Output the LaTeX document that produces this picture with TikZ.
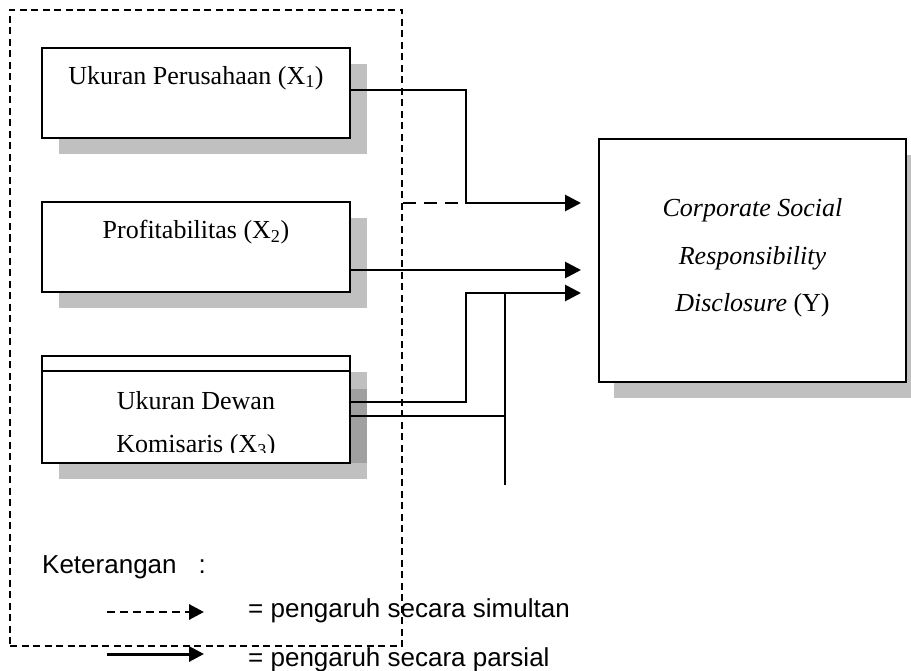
\documentclass[tikz,border=0pt]{standalone}
\usepackage{fontspec}
\setmainfont{Liberation Serif}
\newfontfamily\legendfont{Liberation Sans}
\usetikzlibrary{arrows.meta,shadows,calc}
\definecolor{shadowgray}{HTML}{C0C0C0}
\definecolor{stripgray}{HTML}{A0A0A0}
\begin{document}
\begin{tikzpicture}[x=1pt,y=-1pt,
  varbox/.style={draw=black, line width=2pt, fill=white, inner sep=0pt,
    drop shadow={shadow xshift=17pt, shadow yshift=-16pt, fill=shadowgray, opacity=1}},
  ybox/.style={draw=black, line width=2pt, fill=white, inner sep=0pt,
    drop shadow={shadow xshift=15pt, shadow yshift=-16pt, fill=shadowgray, opacity=1}},
  txt/.style={inner sep=0pt, font=\fontsize{26}{31}\selectfont},
  legtxt/.style={inner sep=0pt, anchor=west, font=\legendfont\fontsize{26}{31}\selectfont},
  conn/.style={line width=2.8pt, -{Triangle[length=16pt,width=16pt]}},
  dconn/.style={line width=2.8pt, dash pattern=on 13pt off 8pt},
  thinconn/.style={line width=1.8pt},
  grpbox/.style={draw=black, line width=1.5pt, dash pattern=on 7pt off 4.5pt, inner sep=0pt},
  legdash/.style={line width=2.4pt, dash pattern=on 8pt off 5pt},
  legsolid/.style={line width=3pt},
  legtip/.style={-{Triangle[length=15pt,width=15pt]}}
]
\useasboundingbox (0,0) rectangle (911,671);

% independent variable boxes
\node[varbox, minimum width=308pt, minimum height=90pt] (b1) at (196,93) {};
\node[txt] (t1) at (196,78) {Ukuran Perusahaan (X\textsubscript{1})};

\node[varbox, minimum width=308pt, minimum height=90pt] (b2) at (196,247) {};
\node[txt] (t2) at (196,232) {Profitabilitas (X\textsubscript{2})};

\node[varbox, minimum width=308pt, minimum height=107pt] (b3) at (196,409.5) {};
\fill[stripgray] (351,389) rectangle (367,463);
\draw[line width=2pt] (b3.north west) ++(0,16) coordinate (b3l) -- (b3l -| b3.east);
\begin{scope}
  \clip (43,373) rectangle (349,452.5);
  \node[txt, align=center, font=\fontsize{26}{43}\selectfont] (t3) at (196,425)
    {Ukuran Dewan\\Komisaris (X\textsubscript{3})};
\end{scope}

% dependent variable box
\node[ybox, minimum width=307pt, minimum height=243pt] (Y) at (752.5,260.5) {};
\node[txt, align=center, font=\fontsize{26}{47.5}\selectfont] (ty) at (752.5,258)
  {\textit{Corporate Social}\\\textit{Responsibility}\\\textit{Disclosure} (Y)};

% group (dashed) box
\node[grpbox, minimum width=392pt, minimum height=636pt] (grp) at (206,328) {};

% junction coordinates
\coordinate (j1) at (466,203);
\coordinate (j2) at (466,270);
\coordinate (j3) at (466,293);
\coordinate (k1) at (505,293);
\coordinate (k2) at (505,485);
\coordinate (k3) at (505,416);

% connectors
\draw[dconn] (grp.east |- j1) -- (j1);
\draw[conn] ([yshift=3pt]b1.east) -| (j1) -- ([xshift=-17pt]Y.west |- j1);
\draw[conn] (b2.east |- j2) -- ([xshift=-17pt]Y.west |- j2);
\draw[conn] ([yshift=7.5pt]b3.east) -| (j3) -- ([xshift=-17pt]Y.west |- j3);
\draw[thinconn] ([xshift=-2pt]b3.east |- k3) -- (k3);
\draw[thinconn] (k1) -- (k2);

% legend
\node[legtxt] (ket) at (42,567) {Keterangan\hspace{22pt}:};
\coordinate (ld1) at (107,612);
\coordinate (ld2) at (204,612);
\coordinate (ls1) at (107,654);
\coordinate (ls2) at (204,654);
\draw[legdash] (ld1) -- ([xshift=-13pt]ld2);
\draw[legsolid, legtip] ([xshift=-15pt]ld2) -- (ld2);
\draw[legsolid, legtip] (ls1) -- (ls2);
\node[legtxt] (lsim) at (248,611) {= pengaruh secara simultan};
\node[legtxt] (lpar) at (248,660) {= pengaruh secara parsial};
\end{tikzpicture}
\end{document}
